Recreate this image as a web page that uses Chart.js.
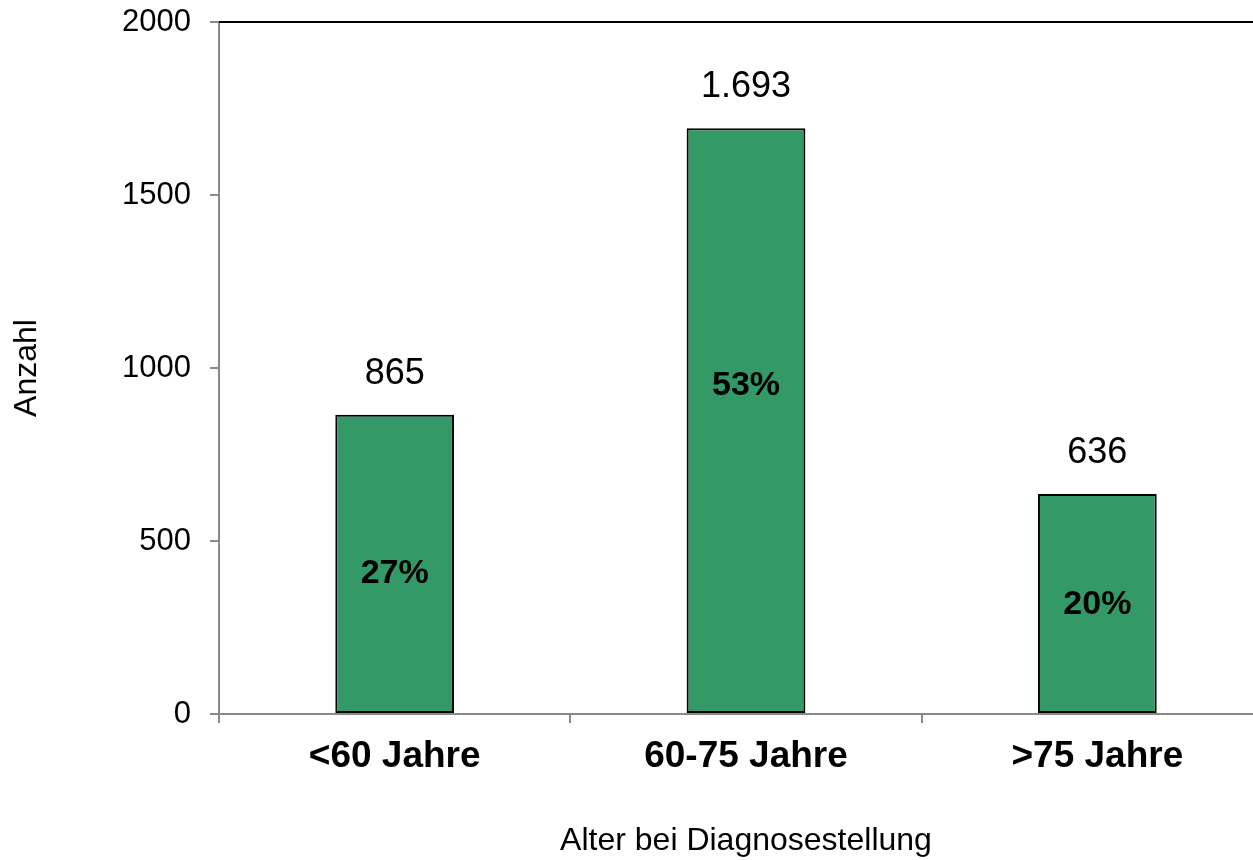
<!DOCTYPE html>
<html>
<head>
<meta charset="utf-8">
<script src="https://cdn.jsdelivr.net/npm/chart.js@4/dist/chart.umd.min.js"></script>
<style>
  html, body { margin: 0; padding: 0; background: #fff; overflow: hidden; }
  canvas { display: block; }
</style>
</head>
<body>
<canvas id="ageChart" width="1273" height="860"></canvas>
<script>
// data
const categories = ['<60 Jahre', '60-75 Jahre', '>75 Jahre'];
const counts = [865, 1693, 636];
const shares = [27, 53, 20];
const yTicks = [0, 500, 1000, 1500, 2000];

const FONT = '"Liberation Sans", Arial, sans-serif';

function formatDe(n) {
    return String(n).replace(/\B(?=(\d{3})+(?!\d))/g, '.');
}

// value above each bar, share inside, plus the black frame line on top
const barLabels = {
    id: 'barLabels',
    afterDatasetsDraw(chart, args, opts) {
        const { ctx, chartArea } = chart;
        const meta = chart.getDatasetMeta(0);
        ctx.save();
        ctx.textAlign = 'center';
        ctx.textBaseline = 'middle';
        ctx.fillStyle = '#000';
        meta.data.forEach((bar, i) => {
            ctx.font = '36px ' + FONT;
            ctx.fillText(formatDe(counts[i]), bar.x, bar.y - 41);
            ctx.font = 'bold 34px ' + FONT;
            const mid = (bar.y + bar.base) / 2 + opts.shareShift[i];
            ctx.fillText(shares[i] + '%', bar.x, mid);
        });
        ctx.strokeStyle = '#000';
        ctx.lineWidth = 2;
        ctx.beginPath();
        ctx.moveTo(chartArea.left, chartArea.top);
        ctx.lineTo(chartArea.right, chartArea.top);
        ctx.stroke();
        ctx.restore();
    }
};

const ctx = document.getElementById('ageChart').getContext('2d');
const ageChart = new Chart(ctx, {
    type: 'bar',
    data: {
        labels: categories,
        datasets: [{
            data: counts,
            backgroundColor: '#339966',
            borderColor: '#000',
            borderWidth: 2,
            borderSkipped: false,
            categoryPercentage: 1,
            barPercentage: 0.338
        }]
    },
    options: {
        responsive: false,
        animation: false,
        layout: { padding: { top: 22, right: 0, left: 0, bottom: 0 } },
        plugins: {
            legend: { display: false },
            tooltip: { enabled: false },
            barLabels: { shareShift: [10, -35, 1] }
        },
        scales: {
            x: {
                afterFit(axis) { axis.height = 146; },
                grid: {
                    drawOnChartArea: false,
                    color: '#898989',
                    lineWidth: 2,
                    tickLength: 9,
                    offset: true
                },
                border: { color: '#898989', width: 2 },
                ticks: {
                    color: '#000',
                    padding: 12,
                    font: { family: FONT, size: 37, weight: 'bold' }
                },
                title: {
                    display: true,
                    text: 'Alter bei Diagnosestellung',
                    color: '#000',
                    padding: { top: 0, bottom: 0 },
                    font: { family: FONT, size: 32 }
                }
            },
            y: {
                min: yTicks[0],
                max: yTicks[yTicks.length - 1],
                afterFit(axis) {
                    axis.width = 219;
                    axis.paddingTop = 0;
                },
                afterBuildTicks(axis) { axis.ticks = yTicks.map(v => ({ value: v })); },
                grid: {
                    drawOnChartArea: false,
                    color: '#898989',
                    lineWidth: 2,
                    tickLength: 9
                },
                border: { color: '#898989', width: 2 },
                ticks: {
                    color: '#000',
                    padding: 19,
                    font: { family: FONT, size: 31 },
                    callback: v => String(v)
                },
                title: {
                    display: true,
                    text: 'Anzahl',
                    color: '#000',
                    padding: { top: 8, bottom: 0 },
                    font: { family: FONT, size: 32 }
                }
            }
        }
    },
    plugins: [barLabels]
});
</script>
</body>
</html>
